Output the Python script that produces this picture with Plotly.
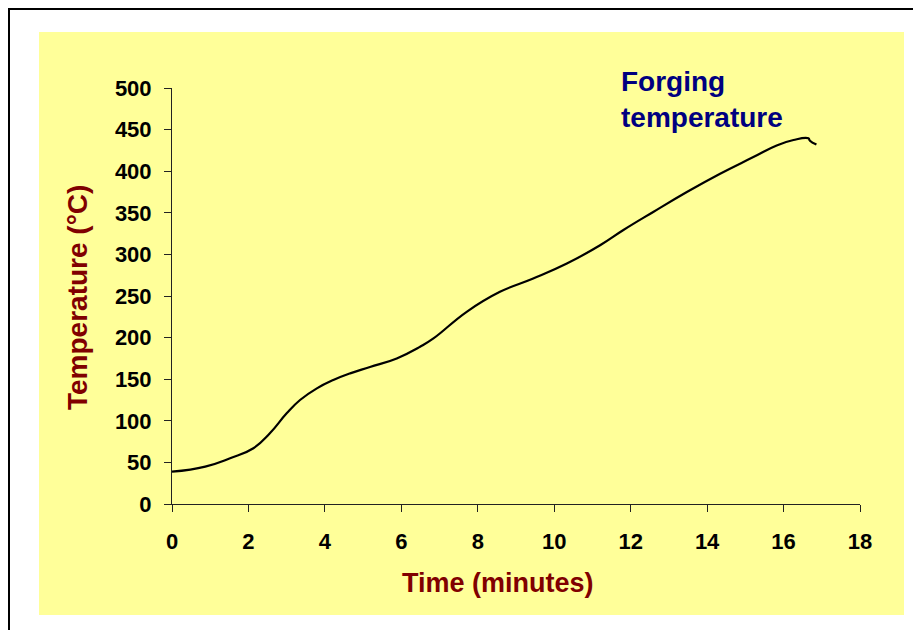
import plotly.graph_objects as go

# Data
time_min = [0, 0.87, 1.52, 2.13, 2.56, 3.0, 3.35, 3.79, 4.22, 4.66, 5.18, 5.88,
            6.49, 6.84, 7.71, 8.58, 9.45, 10.33, 11.2, 11.8, 12.59, 13.47, 14.34,
            15.21, 15.82, 16.26, 16.65, 16.69, 16.86]
temperature_c = [38.8, 45, 55, 67, 85, 109, 125, 139, 149, 157, 164.6, 175,
                 189, 199, 231, 255, 271, 289, 311, 329, 351, 375, 397,
                 417, 431, 437.5, 439.5, 436.7, 432]

x_ticks = [0, 2, 4, 6, 8, 10, 12, 14, 16, 18]
y_ticks = [0, 50, 100, 150, 200, 250, 300, 350, 400, 450, 500]

FONT = "Liberation Sans, Arial, Helvetica, sans-serif"

fig = go.Figure()
fig.add_trace(go.Scatter(
    x=time_min, y=temperature_c, mode="lines",
    line=dict(color="black", width=2.2, shape="spline", smoothing=1.3),
    hoverinfo="x+y", showlegend=False,
))

# page offset (default body margin of the html page)
OFF = 8
W, H = 921, 630
# desired plot area in screen pixels
SX0, SX1, SY0, SY1 = 172, 860, 88, 504
L, T = SX0 - OFF, SY0 - OFF
pw, ph = SX1 - SX0, SY1 - SY0
R, B = W - L - pw, H - T - ph

def px(x):
    return (x - SX0) / pw

def py(y):
    return (SY1 - y) / ph

fig.update_layout(
    width=W, height=H,
    margin=dict(l=L, r=R, t=T, b=B, pad=0),
    paper_bgcolor="white",
    plot_bgcolor="rgba(0,0,0,0)",
    font=dict(family=FONT, color="black"),
    xaxis=dict(
        range=[0, 18], tickvals=x_ticks, ticktext=[str(v) for v in x_ticks],
        showgrid=False, zeroline=False, showline=True, linecolor="#222",
        linewidth=1, ticks="outside", ticklen=7, tickcolor="#222",
        tickfont=dict(size=22, family=FONT, weight="bold", color="black"),
        ticklabelstandoff=11,
    ),
    yaxis=dict(
        range=[0, 500], tickvals=y_ticks, ticktext=[str(v) for v in y_ticks],
        showgrid=False, zeroline=False, showline=True, linecolor="#222",
        linewidth=1, ticks="outside", ticklen=7, tickcolor="#222",
        tickfont=dict(size=22, family=FONT, weight="bold", color="black"),
        ticklabelstandoff=8,
    ),
    shapes=[
        dict(type="rect", xref="paper", yref="paper", layer="below",
             x0=px(9), x1=px(960), y0=py(9), y1=py(700),
             line=dict(color="black", width=2), fillcolor="white"),
        dict(type="rect", xref="paper", yref="paper", layer="below",
             x0=px(39), x1=px(904), y0=py(32), y1=py(615),
             line=dict(width=0), fillcolor="#FFFF99"),
    ],
    annotations=[
        dict(text="<b>Forging<br>temperature</b>", xref="paper", yref="paper",
             x=px(619), y=py(64), xanchor="left", yanchor="top", align="left",
             showarrow=False,
             font=dict(size=28, family=FONT, color="#000080")),
        dict(text="<b>Time (minutes)</b>", xref="paper", yref="paper",
             x=px(498), y=py(583), xanchor="center", yanchor="middle",
             showarrow=False,
             font=dict(size=27, family=FONT, color="#800000")),
        dict(text="<b>Temperature (°C)</b>", xref="paper", yref="paper",
             x=px(77), y=py(298), xanchor="center", yanchor="middle",
             textangle=-90, showarrow=False,
             font=dict(size=28, family=FONT, color="#800000")),
    ],
)

fig.write_html("out.html")
